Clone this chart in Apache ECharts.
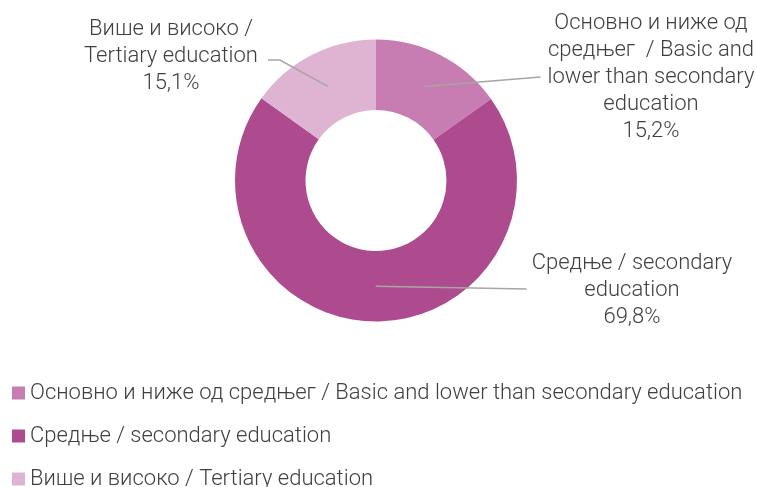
<!DOCTYPE html>
<html><head><meta charset="utf-8">
<script src="https://cdn.jsdelivr.net/npm/echarts@6/dist/echarts.min.js"></script>
<style>html,body{margin:0;padding:0;background:#fff}#c{width:757px;height:487px}</style>
</head><body><div id="c"></div>
<script>
const categories = [
  'Основно и ниже од средњег / Basic and lower than secondary education',
  'Средње / secondary education',
  'Више и високо / Tertiary education'
];
const labelNames = [
  'Основно и ниже од\nсредњег  / Basic and\nlower than secondary\neducation',
  'Средње / secondary\neducation',
  'Више и високо /\nTertiary education'
];
const shares = [15.2, 69.8, 15.1];
const valueLabels = ['15,2%', '69,8%', '15,1%'];
const colors = ['#C77DB2', '#AE4B8F', '#DFB4D2'];

const CX = 376, CY = 180.5, R_IN = 70.5, R_OUT = 141;
const R_MID = (R_IN + R_OUT) / 2;
const FONT = 'Roboto';
const TEXT = '#404040';
// label block centre, side of leader line, leader end offsets
const LABEL_LAYOUT = [
  { x: 651, y: 77, side: 'left', gap: 7, dy: 0 },
  { x: 632, y: 290, side: 'left', gap: 5, dy: -1 },
  { x: 171, y: 56, side: 'right', gap: 10, dy: 4, elbow: 12 }
];
const labelWidths = [0, 0, 0];

const chart = echarts.init(document.getElementById('c'), null, { renderer: 'canvas' });
const total = shares.reduce((a, b) => a + b, 0);

function midPoint(i) {
  let cum = 0;
  for (let k = 0; k < i; k++) cum += shares[k];
  const ang = (90 - 360 * (cum + shares[i] / 2) / total) * Math.PI / 180;
  return [CX + R_MID * Math.cos(ang), CY - R_MID * Math.sin(ang)];
}

chart.setOption({
  backgroundColor: '#fff',
  animation: false,
  color: colors,
  legend: {
    orient: 'vertical',
    left: 7,
    top: 377,
    height: 160,
    padding: 5,
    itemWidth: 13,
    itemHeight: 13,
    itemGap: 21,
    itemTextGap: 3,
    icon: 'rect',
    data: categories,
    textStyle: { fontFamily: FONT, fontWeight: 300, fontSize: 22, color: TEXT }
  },
  series: [{
    type: 'pie',
    center: [CX, CY],
    radius: [R_IN, R_OUT],
    startAngle: 90,
    clockwise: true,
    silent: true,
    itemStyle: { borderWidth: 0 },
    label: {
      show: true,
      position: 'outside',
      fontFamily: FONT,
      fontWeight: 300,
      fontSize: 22,
      lineHeight: 27,
      color: TEXT,
      align: 'center',
      formatter: p => labelNames[p.dataIndex] + '\n' + valueLabels[p.dataIndex]
    },
    labelLine: { show: false },
    labelLayout: function (p) {
      const L = LABEL_LAYOUT[p.dataIndex];
      labelWidths[p.dataIndex] = p.labelRect.width;
      return { x: L.x, y: L.y, align: 'center', verticalAlign: 'middle' };
    },
    data: categories.map((n, i) => ({ name: n, value: shares[i] }))
  }]
});

// leader lines from the middle of each ring segment to its label
const leaders = shares.map((v, i) => {
  const L = LABEL_LAYOUT[i];
  const w = labelWidths[i] || 200;
  const s = midPoint(i);
  const ey = L.y + L.dy;
  const ex = L.side === 'left' ? L.x - w / 2 - L.gap : L.x + w / 2 + L.gap;
  const pts = [s];
  if (L.elbow) pts.push([ex + (L.side === 'right' ? L.elbow : -L.elbow), ey]);
  pts.push([ex, ey]);
  return {
    type: 'polyline', silent: true, z: 100,
    shape: { points: pts },
    style: { stroke: '#A6A6A6', lineWidth: 1.5, fill: null }
  };
});
chart.setOption({ graphic: leaders });
</script></body></html>
